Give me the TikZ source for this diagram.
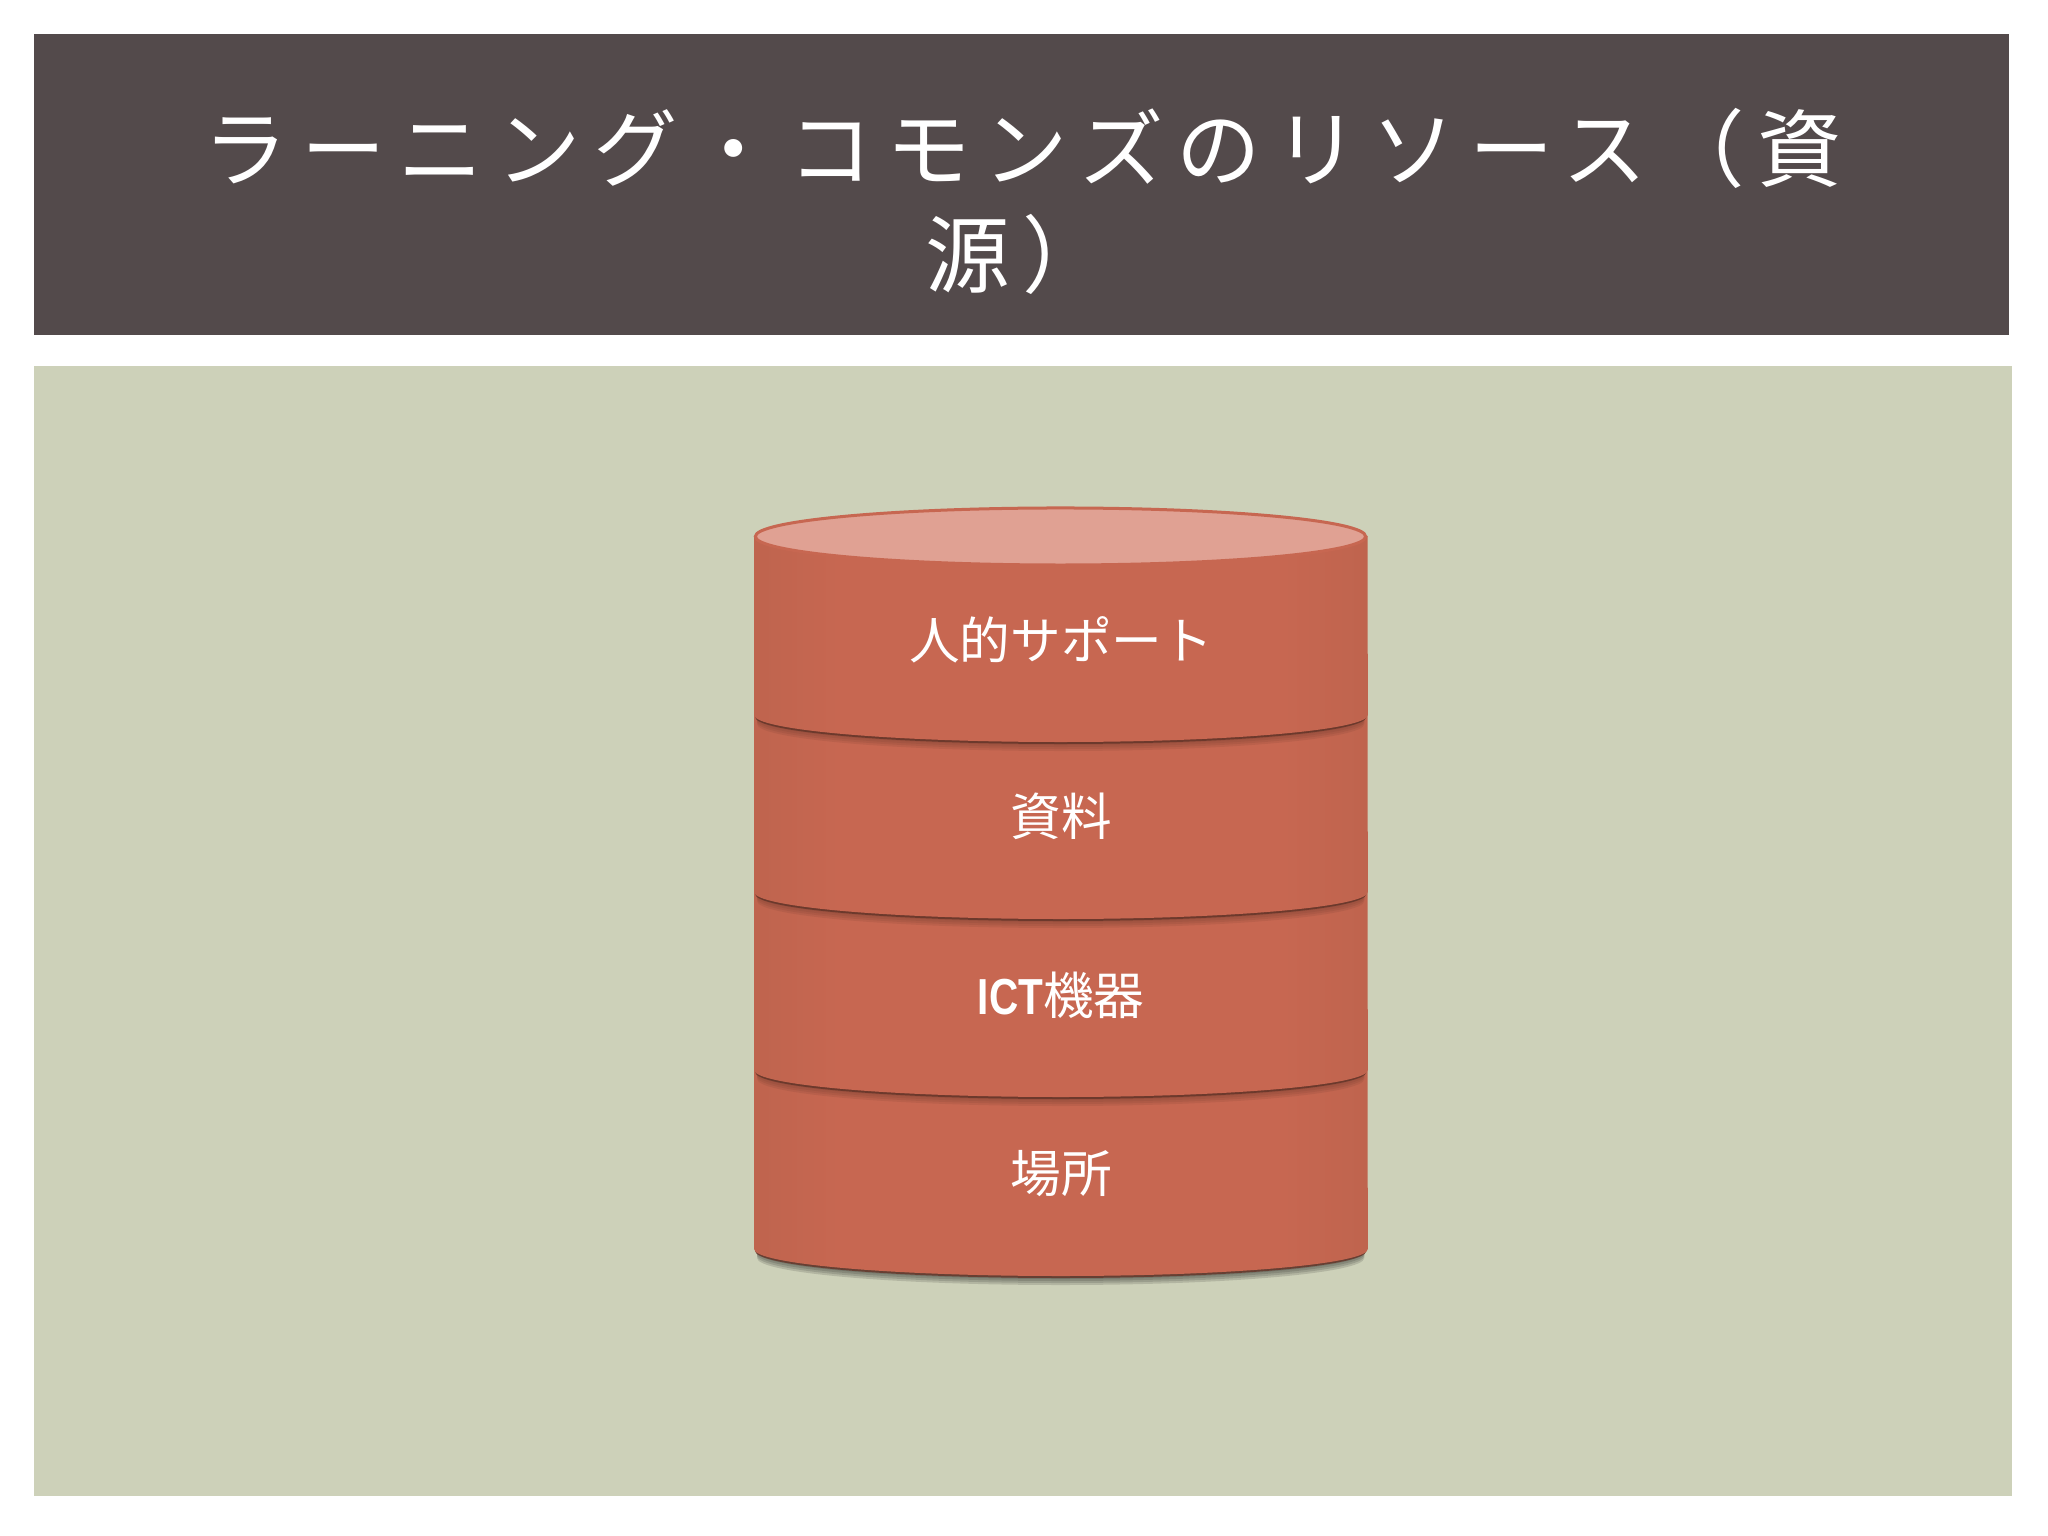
\documentclass[tikz,border=0pt]{standalone}
\usepackage{fontspec}
\usepackage{tikz}
\usetikzlibrary{positioning}
\setmainfont{Noto Sans CJK JP}
\newfontfamily\titlefont[LetterSpace=15.5]{Noto Sans CJK JP}
\newfontfamily\ictfont[FakeStretch=0.8]{Liberation Sans}

\definecolor{titlecolor}{RGB}{83, 74, 75}
\definecolor{panelcolor}{RGB}{205, 209, 185}
\definecolor{bandcolor}{RGB}{199, 103, 81}
\definecolor{bandedge}{RGB}{191, 100, 78}
\definecolor{facecolor}{RGB}{224, 161, 147}
\definecolor{seamcolor}{RGB}{100, 54, 42}

% Side of the drum: slightly darker towards the rims
\pgfdeclarehorizontalshading{bandshade}{100bp}{
    color(0bp)=(bandedge); color(25bp)=(bandedge); color(32bp)=(bandcolor);
    color(68bp)=(bandcolor); color(75bp)=(bandedge); color(100bp)=(bandedge)}

\begin{document}
\begin{tikzpicture}[
    x=0.01cm, y=0.01cm,
    titleline/.style={white, inner sep=0pt, font=\titlefont\fontsize{24}{24}\selectfont},
    bandlabel/.style={white, inner sep=0pt, font=\fontsize{14.4}{14.4}\selectfont}
]

\useasboundingbox (0,0) rectangle (2048,1536);
\fill[white] (0,0) rectangle (2048,1536);

% Title bar and panel
\fill[titlecolor] (34,1201) rectangle (2009,1502);
\fill[panelcolor] (34,40) rectangle (2012,1170);

\node[titleline] (title1) at (1023,1388) {ラーニング・コモンズのリソース（資};
\node[titleline] (title2) at (1016,1282) {源）};

% Bands of the drum, lowest first: bottom of side / top of side
\foreach \yend/\ytop/\shadow in {287/466/black, 466/644/seamcolor, 644/821/seamcolor, 821/1000/seamcolor} {
    % soft shadow under the rim
    \foreach \off in {9,7,5,3} {
        \fill[\shadow, opacity=0.13] (757,\yend-\off) arc[start angle=180, end angle=360, x radius=303.5cm/100, y radius=27cm/100] -- (1364,\yend+4) -- (757,\yend+4) -- cycle;
    }
    \fill[seamcolor, opacity=0.85] (755,\yend-2) arc[start angle=180, end angle=360, x radius=305.5cm/100, y radius=27cm/100] -- (1366,\yend+4) -- (755,\yend+4) -- cycle;
    \shade[shading=bandshade] (754,\ytop) -- (754,\yend) arc[start angle=180, end angle=360, x radius=306.75cm/100, y radius=27cm/100] -- (1367.5,\ytop) -- cycle;
}

% Top face
\draw[bandcolor, fill=facecolor, line width=0.03cm] (1060.5,999.5) ellipse[x radius=305cm/100, y radius=28.5cm/100];

% Labels
\node[bandlabel] (people) at (1061,896) {人的サポート};
\node[bandlabel] (books) at (1061,720) {資料};
\node[bandlabel] (ict) at (1061,541) {{\ictfont\bfseries ICT}機器};
\node[bandlabel] (place) at (1061,362) {場所};

\end{tikzpicture}
\end{document}
